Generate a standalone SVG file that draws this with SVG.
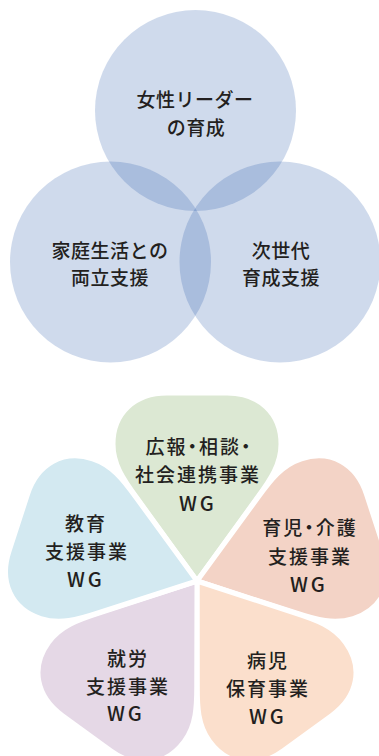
<svg xmlns="http://www.w3.org/2000/svg" xmlns:xlink="http://www.w3.org/1999/xlink" width="379" height="756" viewBox="0 0 379 756">
<style>
.t{font-family:"Noto Sans CJK JP","Noto Sans",sans-serif;font-size:19px;font-weight:500;fill:#231f20;text-anchor:middle;dominant-baseline:central}
.c{letter-spacing:0.5px}
.p{letter-spacing:2px;font-feature-settings:"palt"}
.wg{letter-spacing:3px;font-size:20px}
.circ{fill:#1b4fa5;fill-opacity:0.21}
.petal{stroke:#ffffff;stroke-width:5;stroke-linejoin:round}
</style>
<defs>
<path id="petal" d="M0 0 L-60 -83 C-74 -102 -84 -117 -84 -137 C-84 -168 -62 -188 -30 -188 L30 -188 C62 -188 84 -168 84 -137 C84 -117 74 -102 60 -83 Z"/>
</defs>
<rect width="379" height="756" fill="#ffffff"/>
<g id="connectors"/>
<g id="node-leader">
<circle class="circ" cx="195.5" cy="110.5" r="100.5"/>
<text class="t c" x="195" y="98">女性リーダー</text>
<text class="t c" x="196" y="126">の育成</text>
</g>
<g id="node-family">
<circle class="circ" cx="110.5" cy="262" r="100.5"/>
<text class="t c" x="110" y="249">家庭生活との</text>
<text class="t c" x="110" y="276">両立支援</text>
</g>
<g id="node-nextgen">
<circle class="circ" cx="280" cy="262" r="100.5"/>
<text class="t c" x="281" y="249">次世代</text>
<text class="t c" x="281" y="276">育成支援</text>
</g>
<g id="node-pr">
<use xlink:href="#petal" class="petal" fill="#dce8d3" transform="translate(197 581)"/>
<text class="t p" x="199" y="445">広報・相談・</text>
<text class="t p" x="198" y="473">社会連携事業</text>
<text class="t wg" x="198" y="502">WG</text>
</g>
<g id="node-childcare">
<use xlink:href="#petal" class="petal" fill="#f3d3c6" transform="translate(197 581) rotate(72)"/>
<text class="t p" x="310" y="526">育児・介護</text>
<text class="t p" x="310" y="555">支援事業</text>
<text class="t wg" x="309" y="583">WG</text>
</g>
<g id="node-sick">
<use xlink:href="#petal" class="petal" fill="#fbdfcc" transform="translate(197 581) rotate(144)"/>
<text class="t p" x="268" y="659">病児</text>
<text class="t p" x="268" y="687">保育事業</text>
<text class="t wg" x="268" y="715">WG</text>
</g>
<g id="node-work">
<use xlink:href="#petal" class="petal" fill="#e5d8e6" transform="translate(197 581) rotate(-144)"/>
<text class="t p" x="128" y="657">就労</text>
<text class="t p" x="128" y="685">支援事業</text>
<text class="t wg" x="126" y="712">WG</text>
</g>
<g id="node-edu">
<use xlink:href="#petal" class="petal" fill="#d3e9f1" transform="translate(197 581) rotate(-72)"/>
<text class="t p" x="86" y="522">教育</text>
<text class="t p" x="87" y="550">支援事業</text>
<text class="t wg" x="86" y="578">WG</text>
</g>
</svg>
